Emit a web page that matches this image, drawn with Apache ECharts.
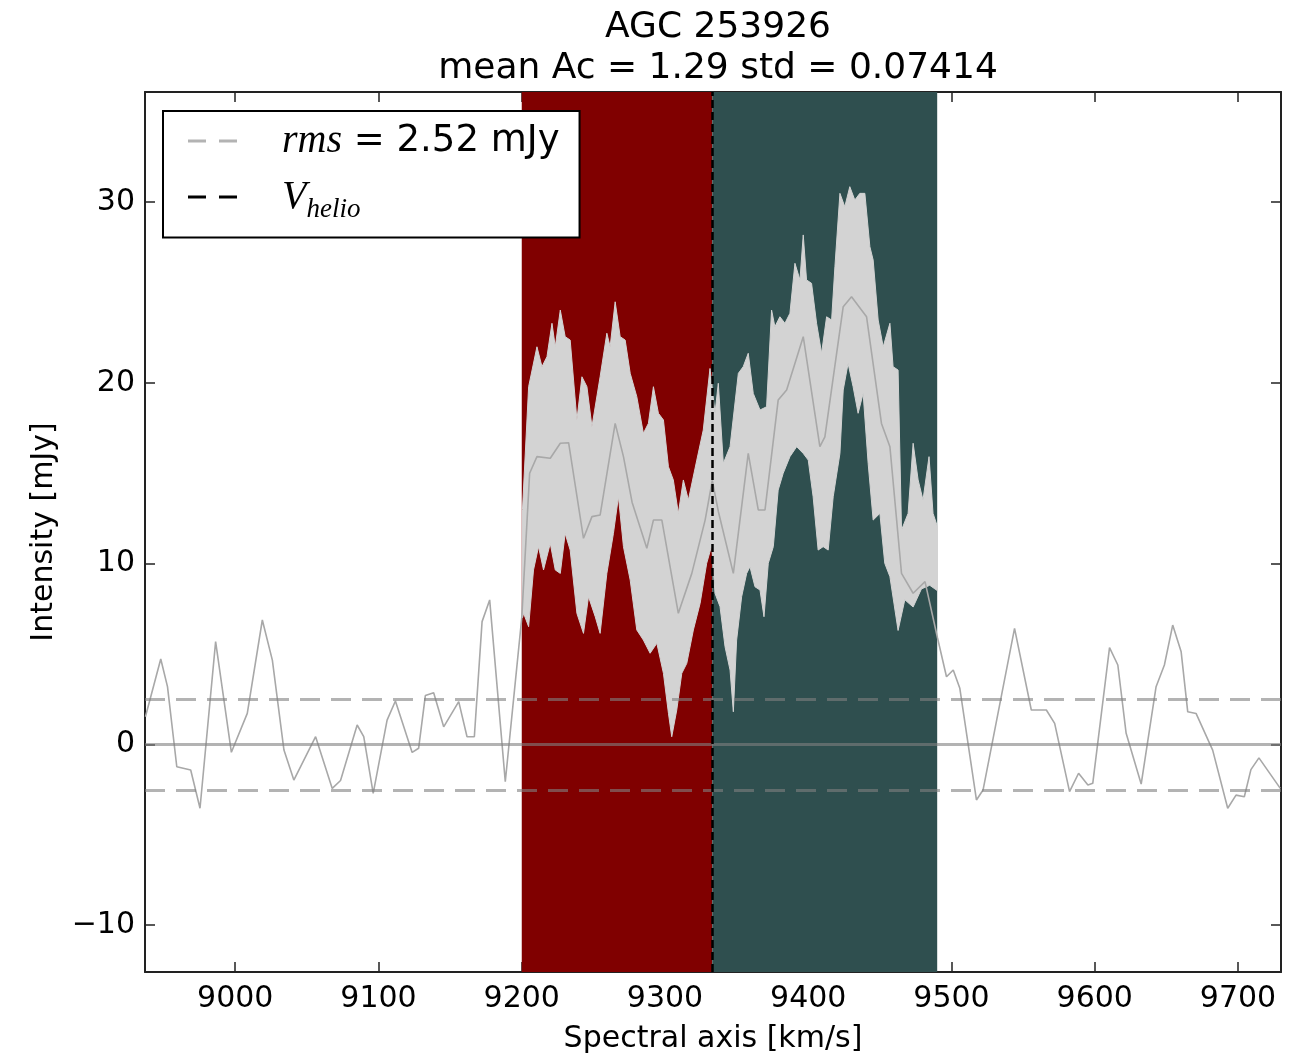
<!DOCTYPE html>
<html>
<head>
<meta charset="utf-8">
<script src="https://cdn.jsdelivr.net/npm/echarts@6/dist/echarts.min.js"></script>
<style>
  html, body { margin: 0; padding: 0; background: #ffffff; }
  #chart { width: 1297px; height: 1060px; }
</style>
</head>
<body>
<div id="chart"></div>
<script>
// ---------------- data ----------------
const titleText = 'AGC 253926';
const subtitleText = 'mean Ac = 1.29 std = 0.07414';
const xAxisName = 'Spectral axis [km/s]';
const yAxisName = 'Intensity [mJy]';

const xTicks = [9000, 9100, 9200, 9300, 9400, 9500, 9600, 9700];
const yTicks = [-10, 0, 10, 20, 30];
const xRange = [8937, 9730];
const yRange = [-12.6, 36.1];

const rms = 2.52;           // mJy
const vHelio = 9333;        // km/s
const redRegion = [9200, 9333];
const tealRegion = [9333, 9490];

// observed spectrum [velocity km/s, intensity mJy]
const spectrum = [
  [8937.3, 1.53], [8948.0, 4.72], [8952.7, 3.19], [8959.2, -1.24], [8968.9, -1.42],
  [8975.4, -3.54], [8986.3, 5.68], [8997.3, -0.44], [9008.4, 1.71], [9018.9, 6.88],
  [9025.9, 4.66], [9034.0, -0.32], [9040.9, -1.98], [9056.1, 0.42], [9067.7, -2.44],
  [9073.5, -2.0], [9085.1, 1.07], [9089.7, 0.42], [9096.3, -2.71], [9106.0, 1.34],
  [9111.8, 2.4], [9123.5, -0.45], [9128.0, -0.22], [9132.7, 2.7], [9138.5, 2.85],
  [9145.5, 0.97], [9156.0, 2.36], [9161.8, 0.42], [9166.9, 0.42], [9172.3, 6.79],
  [9177.6, 7.99], [9188.5, -2.07], [9200.0, 7.0], [9205.5, 15.0], [9210.6, 15.92],
  [9219.9, 15.83], [9226.9, 16.66], [9232.7, 16.69], [9243.1, 11.4], [9249.0, 12.6],
  [9254.7, 12.69], [9265.2, 17.76], [9271.0, 15.92], [9277.0, 13.4], [9287.3, 10.85],
  [9291.9, 12.41], [9297.8, 12.41], [9309.3, 7.25], [9318.7, 9.46], [9328.0, 12.41],
  [9333.0, 14.6], [9337.2, 12.9], [9347.7, 9.46], [9358.1, 16.1], [9365.1, 12.97],
  [9369.8, 12.97], [9379.0, 19.05], [9384.9, 19.61], [9396.5, 22.56], [9408.1, 16.47],
  [9411.6, 17.02], [9424.4, 24.22], [9430.2, 24.77], [9440.7, 23.66], [9451.1, 17.76],
  [9457.0, 16.47], [9465.1, 9.46], [9473.2, 8.36], [9481.5, 9.0], [9490.2, 5.9],
  [9496.5, 3.74], [9501.2, 4.11], [9505.8, 3.1], [9517.4, -3.08], [9522.0, -2.53],
  [9544.0, 6.42], [9555.7, 1.9], [9566.2, 1.9], [9572.0, 1.16], [9582.4, -2.62],
  [9588.7, -1.6], [9595.2, -2.25], [9598.6, -2.16], [9610.3, 5.35], [9616.1, 4.39],
  [9621.9, 0.61], [9632.4, -2.2], [9642.8, 3.19], [9648.6, 4.39], [9654.4, 6.6],
  [9660.3, 5.12], [9664.9, 1.8], [9670.7, 1.71], [9682.3, -0.32], [9692.8, -3.54],
  [9698.6, -2.81], [9704.4, -2.9], [9709.0, -1.4], [9714.6, -0.75], [9729.5, -2.44]
];

// envelope of the resampled spectra (upper edge) [velocity, intensity]
const bandUpper = [
  [9200.5, 13.0], [9204.8, 19.79], [9210.6, 22.0], [9214.1, 20.9], [9217.6, 21.45],
  [9221.1, 23.3], [9223.4, 22.0], [9226.9, 24.03], [9230.3, 22.56], [9233.8, 22.37],
  [9238.5, 17.95], [9242.0, 20.34], [9245.5, 19.79], [9249.0, 17.58], [9254.7, 20.34],
  [9259.4, 22.75], [9261.7, 22.0], [9265.2, 24.49], [9268.7, 22.56], [9272.2, 22.37],
  [9275.7, 20.53], [9280.3, 19.24], [9284.9, 17.21], [9288.4, 17.76], [9291.9, 19.79],
  [9295.4, 18.32], [9298.9, 17.95], [9302.4, 15.36], [9305.8, 14.63], [9309.3, 12.78],
  [9312.8, 14.63], [9316.3, 13.52], [9322.2, 15.73], [9326.7, 17.39], [9331.4, 20.8],
  [9334.9, 18.32], [9337.2, 19.98], [9340.7, 15.55], [9345.4, 16.47], [9351.2, 20.53],
  [9354.6, 20.9], [9358.1, 21.64], [9361.6, 19.42], [9366.3, 18.5], [9370.9, 18.68],
  [9374.4, 24.03], [9376.7, 23.11], [9380.2, 23.66], [9383.7, 23.3], [9387.2, 23.85],
  [9390.7, 26.62], [9394.2, 25.7], [9396.5, 28.19], [9398.8, 25.7], [9402.3, 25.51],
  [9405.8, 23.3], [9409.3, 21.64], [9412.8, 23.66], [9416.3, 23.48], [9418.6, 26.43],
  [9422.1, 30.49], [9425.5, 29.75], [9429.0, 30.86], [9432.5, 30.12], [9436.0, 30.49],
  [9439.5, 30.49], [9443.0, 27.54], [9445.3, 26.8], [9448.8, 23.48], [9452.3, 22.0],
  [9457.0, 23.3], [9459.2, 20.9], [9462.7, 20.71], [9465.1, 11.86], [9469.7, 12.78],
  [9473.2, 16.66], [9476.7, 14.63], [9480.1, 13.52], [9484.3, 15.92], [9487.1, 12.78],
  [9490.2, 12.04]
];

// envelope of the resampled spectra (lower edge) [velocity, intensity]
const bandLower = [
  [9200.5, 7.0], [9201.3, 7.25], [9204.8, 6.51], [9208.2, 9.65], [9211.7, 10.94],
  [9215.2, 9.65], [9219.9, 11.12], [9223.4, 9.65], [9226.9, 9.46], [9230.3, 11.67],
  [9233.8, 10.75], [9238.5, 7.25], [9243.1, 6.14], [9246.6, 8.17], [9251.3, 7.06],
  [9254.7, 6.14], [9259.4, 9.46], [9264.0, 11.68], [9267.5, 13.7], [9271.0, 10.94],
  [9275.7, 9.09], [9280.3, 6.33], [9284.9, 5.77], [9289.6, 5.04], [9294.3, 5.59],
  [9298.9, 3.93], [9302.4, 1.72], [9304.7, 0.42], [9308.2, 1.9], [9311.7, 3.93],
  [9315.2, 4.48], [9319.8, 6.33], [9324.5, 7.8], [9329.1, 10.02], [9332.6, 11.0],
  [9334.9, 8.36], [9338.4, 7.62], [9341.9, 5.4], [9345.4, 4.11], [9347.7, 1.8],
  [9350.0, 5.77], [9353.5, 8.17], [9357.0, 9.46], [9359.3, 9.83], [9362.8, 8.72],
  [9366.3, 8.54], [9369.1, 7.06], [9372.1, 10.02], [9375.6, 10.94], [9379.0, 14.07],
  [9382.5, 15.0], [9387.2, 15.92], [9391.9, 16.47], [9396.5, 16.1], [9400.0, 15.73],
  [9403.4, 13.7], [9406.9, 10.75], [9410.4, 10.94], [9413.9, 10.75], [9417.4, 13.7],
  [9422.1, 16.1], [9424.4, 19.61], [9427.8, 21.08], [9431.3, 19.79], [9434.8, 18.32],
  [9438.3, 19.42], [9441.8, 15.55], [9445.3, 12.41], [9450.0, 12.78], [9453.4, 10.02],
  [9457.0, 9.28], [9462.7, 6.3], [9467.4, 8.0], [9473.2, 7.6], [9479.0, 8.6],
  [9484.8, 8.8], [9490.2, 8.5]
];

// ---------------- chart ----------------
const FONT = 'DejaVu Sans';
const AXIS_COLOR = '#222222';
const fmtTick = v => (v < 0 ? '\u2212' + Math.abs(v) : String(v));

function axisCommon(min, max, ticks) {
  return {
    type: 'value', min: min, max: max, scale: true,
    axisLine: { show: true, onZero: false, lineStyle: { color: AXIS_COLOR, width: 2 } },
    axisTick: { show: true, inside: true, length: 10, customValues: ticks,
                lineStyle: { color: AXIS_COLOR, width: 1.5 } },
    splitLine: { show: false },
    minorTick: { show: false }
  };
}

const chart = echarts.init(document.getElementById('chart'), null, { renderer: 'canvas' });

const option = {
  animation: false,
  backgroundColor: '#ffffff',
  title: {
    text: titleText + '\n' + subtitleText,
    left: 713, top: 2, textAlign: 'center',
    textStyle: { fontFamily: FONT, fontSize: 36, fontWeight: 'normal', color: '#000', lineHeight: 41 }
  },
  grid: { left: 145, top: 92, width: 1136, height: 880, containLabel: false },
  xAxis: [
    Object.assign(axisCommon(xRange[0], xRange[1], xTicks), {
      position: 'bottom',
      axisLabel: { show: true, customValues: xTicks, formatter: fmtTick, margin: 12,
                   fontFamily: FONT, fontSize: 30, color: '#000' },
      name: xAxisName, nameLocation: 'middle', nameGap: 52,
      nameTextStyle: { fontFamily: FONT, fontSize: 30, color: '#000' }
    }),
    Object.assign(axisCommon(xRange[0], xRange[1], xTicks), {
      position: 'top', axisLabel: { show: false }
    })
  ],
  yAxis: [
    Object.assign(axisCommon(yRange[0], yRange[1], yTicks), {
      position: 'left',
      axisLabel: { show: true, customValues: yTicks, formatter: fmtTick, margin: 10,
                   fontFamily: FONT, fontSize: 30, color: '#000' },
      name: yAxisName, nameLocation: 'middle', nameGap: 86, nameRotate: 90,
      nameTextStyle: { fontFamily: FONT, fontSize: 30, color: '#000' }
    }),
    Object.assign(axisCommon(yRange[0], yRange[1], yTicks), {
      position: 'right', axisLabel: { show: false }
    })
  ],
  legend: {
    show: true, orient: 'vertical', left: 163, top: 111,
    padding: [10, 20, 14, 25],
    itemWidth: 49, itemHeight: 40, itemGap: 16,
    symbolKeepAspect: true,
    backgroundColor: '#ffffff', borderColor: '#000000', borderWidth: 2, borderRadius: 0,
    selectedMode: false,
    data: [
      { name: 'rms', icon: 'path://M0 0H18V3H0Z M31 0H49V3H31Z', itemStyle: { color: '#b3b3b3' } },
      { name: 'Vhelio', icon: 'path://M0 0H18V3H0Z M31 0H49V3H31Z', itemStyle: { color: '#000000' } }
    ],
    formatter: function (name) {
      if (name === 'rms') return '{i|rms}{n| = ' + rms.toFixed(2) + ' mJy}';
      return '{i|V}{s|helio}';
    },
    textStyle: {
      fontFamily: FONT, fontSize: 37, color: '#000', padding: [0, 0, 0, 40],
      rich: {
        i: { fontFamily: 'Liberation Serif', fontStyle: 'italic', fontSize: 40, color: '#000' },
        n: { fontFamily: FONT, fontSize: 37, color: '#000' },
        s: { fontFamily: 'Liberation Serif', fontStyle: 'italic', fontSize: 27, color: '#000',
             padding: [26, 0, 0, 0] }
      }
    }
  },
  series: [
    {
      name: 'regions', type: 'line', data: [], silent: true, z: 1,
      markArea: {
        silent: true,
        label: { show: false },
        data: [
          [{ xAxis: redRegion[0], itemStyle: { color: '#800000', opacity: 1 } }, { xAxis: redRegion[1] }],
          [{ xAxis: tealRegion[0], itemStyle: { color: '#2f4f4f', opacity: 1 } }, { xAxis: tealRegion[1] }]
        ]
      }
    },
    {
      name: 'rms', type: 'line', data: [], symbol: 'none', z: 2,
      lineStyle: { color: '#b3b3b3', width: 3, type: [18, 13] },
      itemStyle: { color: '#b3b3b3' },
      markLine: {
        silent: true, symbol: ['none', 'none'], label: { show: false },
        lineStyle: { color: 'rgba(128,128,128,0.6)', width: 3, type: [20, 11] },
        data: [
          { yAxis: rms }, { yAxis: -rms },
          { yAxis: 0, lineStyle: { type: 'solid', color: 'rgba(128,128,128,0.6)', width: 3 } }
        ]
      }
    },
    {
      name: 'band', type: 'custom', z: 3, silent: true,
      data: [[bandUpper[0][0], bandUpper[0][1]]],
      renderItem: function (params, api) {
        const pts = [];
        for (let i = 0; i < bandUpper.length; i++) pts.push(api.coord(bandUpper[i]));
        for (let i = bandLower.length - 1; i >= 0; i--) pts.push(api.coord(bandLower[i]));
        return { type: 'polygon', shape: { points: pts }, style: { fill: '#d3d3d3', stroke: '#d3d3d3', lineWidth: 1 } };
      }
    },
    {
      name: 'spectrum', type: 'line', data: spectrum, symbol: 'none', z: 4, silent: true,
      lineStyle: { color: '#a8a8a8', width: 1.6 }
    },
    {
      name: 'Vhelio', type: 'line', data: [], symbol: 'none', z: 5,
      lineStyle: { color: '#000000', width: 2.5, type: [8, 4] },
      itemStyle: { color: '#000000' },
      markLine: {
        silent: true, symbol: ['none', 'none'], label: { show: false },
        lineStyle: { color: '#000000', width: 2.5, type: [8, 4] },
        data: [{ xAxis: vHelio }]
      }
    }
  ]
};

chart.setOption(option);
</script>
</body>
</html>
